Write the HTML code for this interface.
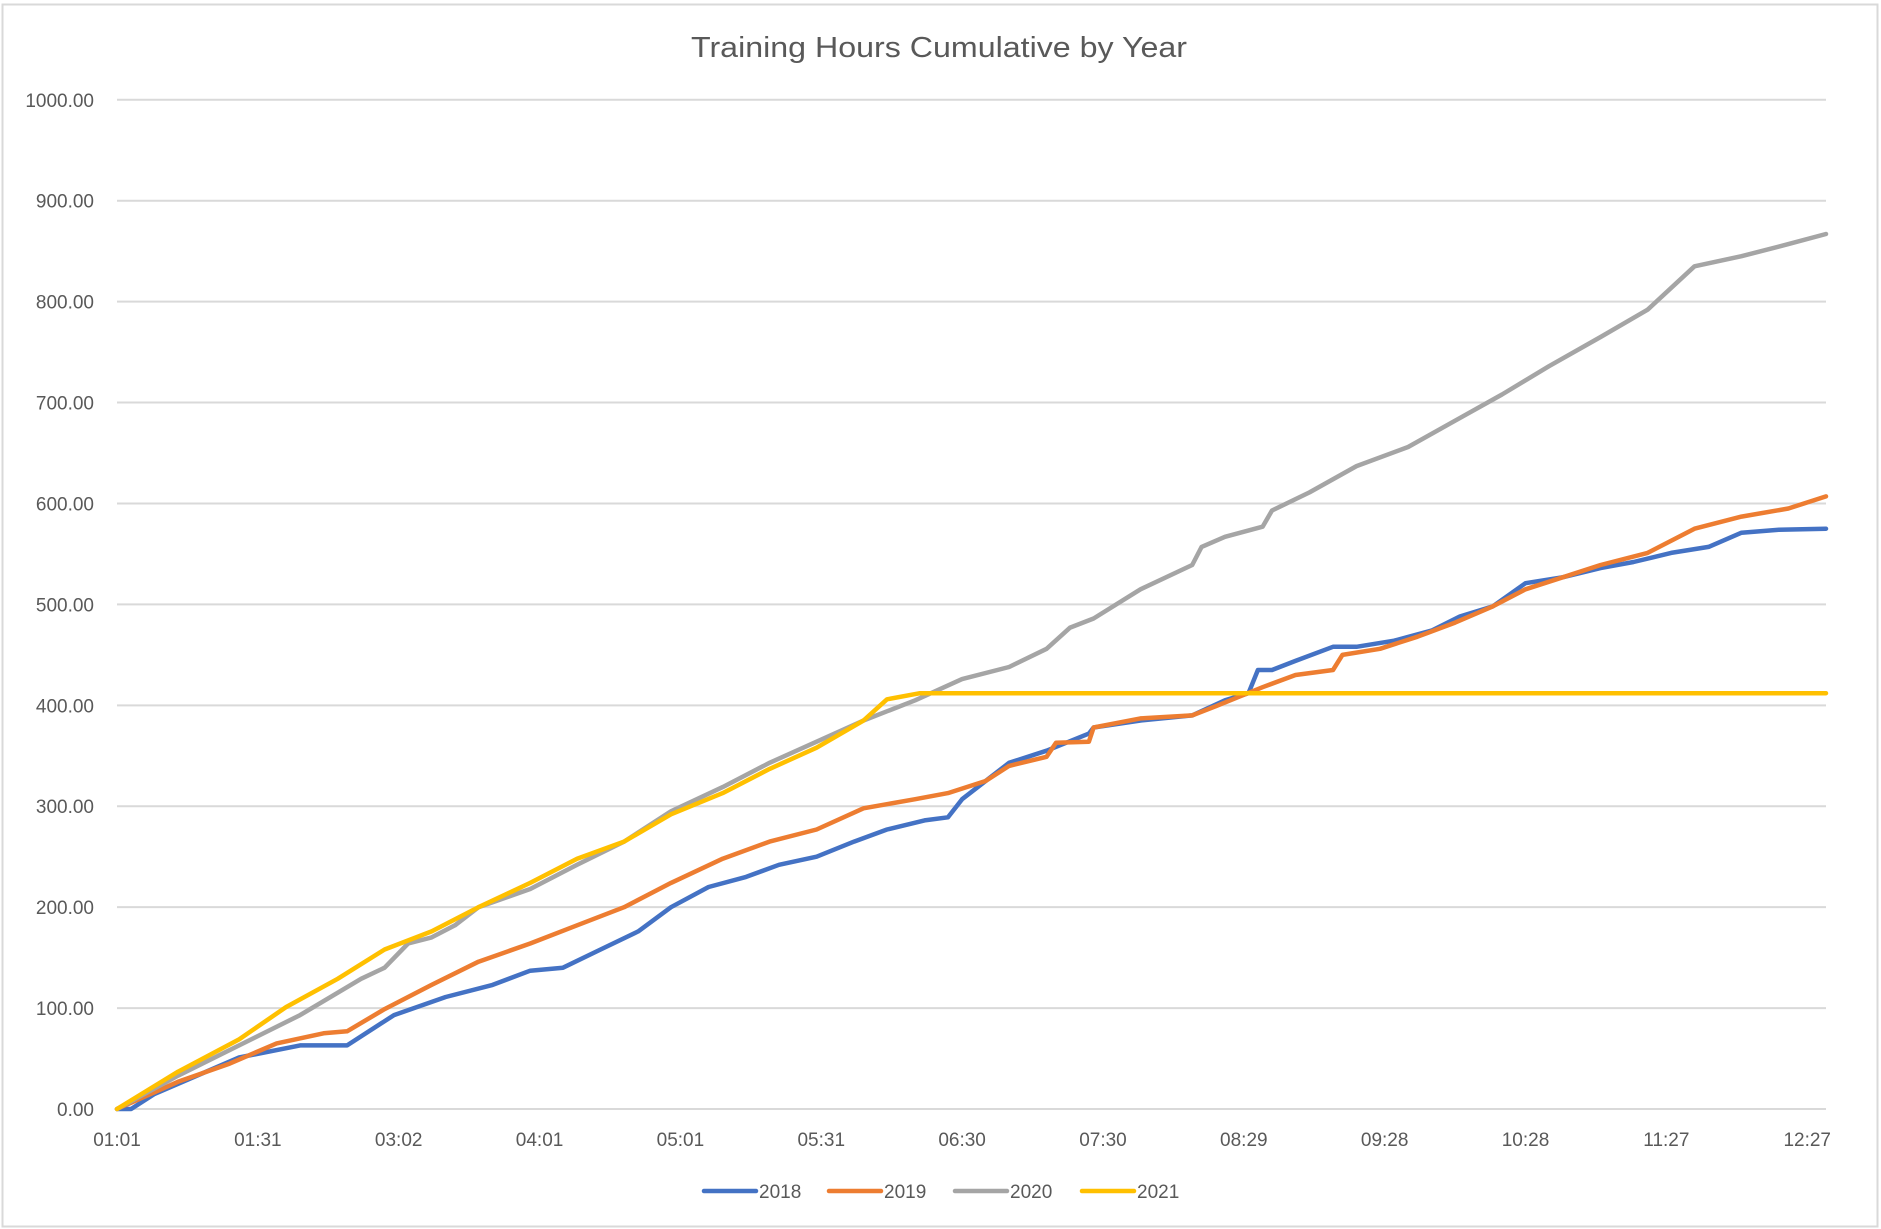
<!DOCTYPE html>
<html><head><meta charset="utf-8"><title>Training Hours Cumulative by Year</title>
<style>
html,body{margin:0;padding:0;background:#fff;}
svg{display:block;font-family:"Liberation Sans",sans-serif;}
</style></head>
<body>
<svg id="chart" width="1881" height="1229" viewBox="0 0 1881 1229" xmlns="http://www.w3.org/2000/svg">
<rect x="2.5" y="4.5" width="1875" height="1222" fill="#fff" stroke="#d9d9d9" stroke-width="2"/>
<text x="939" y="57" text-anchor="middle" font-size="29" fill="#595959" textLength="496" lengthAdjust="spacingAndGlyphs">Training Hours Cumulative by Year</text>
<g id="grid"></g>
<g id="ylabels"></g>
<g id="xlabels"></g>
<g id="series"></g>
<g id="legend"></g>
</svg>
<script>
const yTicks = [0,100,200,300,400,500,600,700,800,900,1000];
const xTickLabels = ["01:01","01:31","03:02","04:01","05:01","05:31","06:30","07:30","08:29","09:28","10:28","11:27","12:27"];
const seriesNames = ["2018","2019","2020","2021"];
const days2018 = [0,3,8,26,39,49,59,70,80,88,95,103,111,118,126,134,141,149,157,164,172,177,180,190,198,207,208,218,229,236,241,243,246,251,259,264,272,280,286,293,300,308,316,323,331,339,346,354,364];
const vals2018 = [0,0,15,51,63,63,93,111,123,137,140,158,176,200,220,230,242,250,265,277,286,289,307,343,355,372,378,385,390,405,412,435,435,444,458,458,464,474,488,498,521,527,536,542,551,557,571,574,575];
const days2019 = [0,13,24,34,44,49,57,67,77,88,98,108,118,129,139,149,159,170,177,185,190,198,200,207,208,218,229,234,244,251,259,261,269,277,285,293,300,308,316,326,336,346,356,364];
const vals2019 = [0,27,45,65,75,77,99,123,146,164,182,200,224,248,265,277,298,307,313,325,340,349,363,364,378,387,390,399,418,430,435,450,456,468,482,498,515,527,539,551,575,587,595,607];
const days2020 = [0,13,26,39,52,57,62,67,72,77,88,98,108,118,129,139,149,159,170,180,190,198,203,208,218,229,231,236,244,246,254,264,275,285,295,305,316,326,336,346,356,364];
const vals2020 = [0,33,63,93,129,140,164,170,182,200,218,242,265,295,319,343,364,385,405,426,438,456,477,486,515,539,557,567,577,593,611,637,656,682,708,736,765,792,835,845,857,867];
const days2021 = [0,13,26,36,47,57,67,77,88,98,108,118,129,139,149,159,164,171,364];
const vals2021 = [0,37,69,101,129,158,176,200,224,248,265,292,313,337,358,385,406,412,412];
const colors = ["#4472C4","#ED7D31","#A5A5A5","#FFC000"];

const NS = "http://www.w3.org/2000/svg";
const X0 = 117, X1 = 1826, Y0 = 1109, YTOP = 99.8, DMAX = 364;
function xs(d){ return X0 + d*(X1-X0)/DMAX; }
function ys(v){ return Y0 - v*(Y0-YTOP)/1000; }

const grid = document.getElementById("grid");
const yl = document.getElementById("ylabels");
yTicks.forEach(t=>{
  const l = document.createElementNS(NS,"line");
  
  
  l.setAttribute("x1",X0); l.setAttribute("x2",X1);
  l.setAttribute("y1",ys(t)); l.setAttribute("y2",ys(t));
  l.setAttribute("stroke","#d9d9d9"); l.setAttribute("stroke-width","2");
  grid.appendChild(l);
  const tx = document.createElementNS(NS,"text");
  
  
  tx.setAttribute("x",94); tx.setAttribute("y",ys(t)+7);
  tx.setAttribute("text-anchor","end"); tx.setAttribute("font-size","19"); tx.setAttribute("fill","#595959");
  tx.textContent = t.toFixed(2);
  yl.appendChild(tx);
});
const xl = document.getElementById("xlabels");
xTickLabels.forEach((lab,i)=>{
  const tx = document.createElementNS(NS,"text");
  
  
  tx.setAttribute("x",xs(i*30)); tx.setAttribute("y",1146);
  tx.setAttribute("text-anchor","middle"); tx.setAttribute("font-size","19"); tx.setAttribute("fill","#595959");
  tx.textContent = lab;
  xl.appendChild(tx);
});
const allDays = [days2018,days2019,days2020,days2021];
const allVals = [vals2018,vals2019,vals2020,vals2021];
const sg = document.getElementById("series");
allDays.forEach((ds,k)=>{
  const vs = allVals[k];
  const p = document.createElementNS(NS,"polyline");
  
  
  p.setAttribute("points", ds.map((d,i)=>xs(d).toFixed(1)+","+ys(vs[i]).toFixed(1)).join(" "));
  p.setAttribute("fill","none"); p.setAttribute("stroke",colors[k]);
  p.setAttribute("stroke-width","4.5"); p.setAttribute("stroke-linejoin","round"); p.setAttribute("stroke-linecap","round");
  sg.appendChild(p);
});
const lg = document.getElementById("legend");
const legX = [704,829,955,1082];
seriesNames.forEach((n,k)=>{
  const l = document.createElementNS(NS,"line");
  
  
  l.setAttribute("x1",legX[k]); l.setAttribute("x2",legX[k]+52);
  l.setAttribute("y1",1191); l.setAttribute("y2",1191);
  l.setAttribute("stroke",colors[k]); l.setAttribute("stroke-width","4.5"); l.setAttribute("stroke-linecap","round");
  lg.appendChild(l);
  const tx = document.createElementNS(NS,"text");
  
  
  tx.setAttribute("x",legX[k]+55); tx.setAttribute("y",1198);
  tx.setAttribute("font-size","19"); tx.setAttribute("fill","#595959");
  tx.textContent = n;
  lg.appendChild(tx);
});
</script>
</body></html>
